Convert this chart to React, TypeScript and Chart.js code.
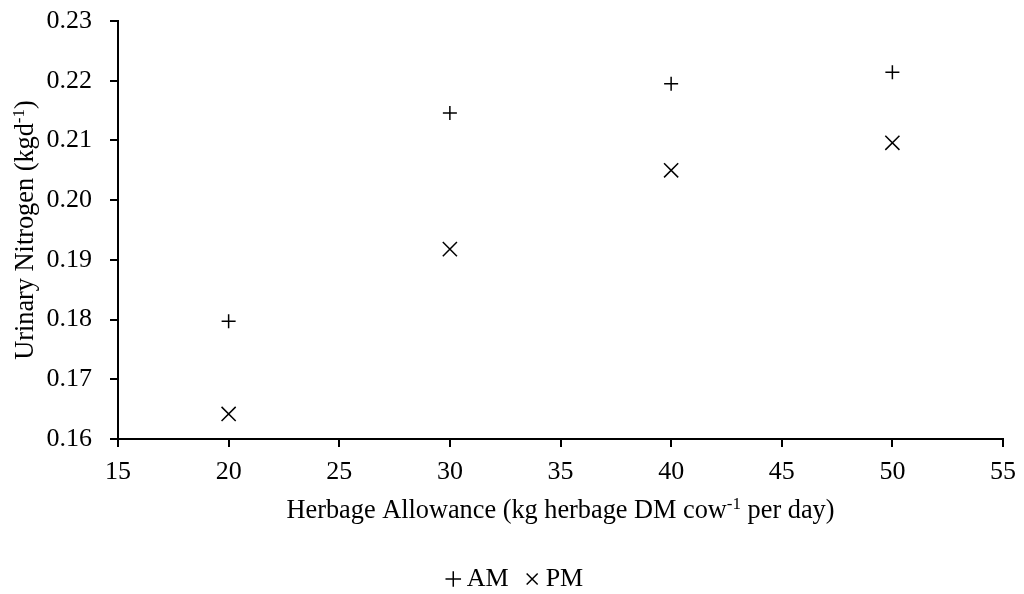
import React, { useEffect, useRef } from "react";
import { Chart, registerables } from "chart.js";

Chart.register(...registerables);

const herbageAllowance = [20, 30, 40, 50];
const amValues = [0.1797, 0.2146, 0.2195, 0.2214];
const pmValues = [0.1642, 0.1918, 0.205, 0.2096];
const seriesLabels = ["AM", "PM"];
const yTitleParts = [
  { text: "Urinary Nitrogen (kgd", sup: false },
  { text: "-1", sup: true },
  { text: ")", sup: false },
];
const xTitleParts = [
  { text: "Herbage Allowance (kg herbage DM cow", sup: false },
  { text: "-1", sup: true },
  { text: " per day)", sup: false },
];

const FONT = '"Liberation Serif", "Times New Roman", serif';
const FS = 26;
const TITLE_FS = 26.3;

type Part = { text: string; sup: boolean };

function drawRich(ctx: CanvasRenderingContext2D, parts: Part[], cx: number, baseline: number, size: number) {
  const main = `${size}px ${FONT}`;
  const sup = `${Math.round(size * 0.65)}px ${FONT}`;
  let total = 0;
  const widths: number[] = [];
  for (const p of parts) {
    ctx.font = p.sup ? sup : main;
    const w = ctx.measureText(p.text).width;
    widths.push(w);
    total += w;
  }
  let x = cx - total / 2;
  ctx.textAlign = "left";
  ctx.textBaseline = "alphabetic";
  ctx.fillStyle = "#000";
  parts.forEach((p, i) => {
    ctx.font = p.sup ? sup : main;
    ctx.fillText(p.text, x, p.sup ? baseline - size * 0.34 : baseline);
    x += widths[i];
  });
}

const titlePlugin = {
  id: "richTitles",
  afterDraw(chart: any) {
    const ctx = chart.ctx as CanvasRenderingContext2D;
    const area = chart.chartArea;
    ctx.save();
    drawRich(ctx, xTitleParts, (area.left + area.right) / 2, 518, TITLE_FS);
    ctx.translate(27, (area.top + area.bottom) / 2);
    ctx.rotate(-Math.PI / 2);
    drawRich(ctx, yTitleParts, 0, 6, TITLE_FS);
    ctx.restore();
  },
};

export default function App() {
  const ref = useRef<HTMLCanvasElement | null>(null);
  useEffect(() => {
    document.body.style.margin = "0";
    const canvas = ref.current!;
    const chart = new Chart(canvas, {
      type: "scatter",
      data: {
        datasets: [
          {
            label: seriesLabels[0],
            data: herbageAllowance.map((x, i) => ({ x, y: amValues[i] })),
            pointStyle: "cross",
            pointRadius: 7,
            pointBorderWidth: 1.5,
            borderColor: "#000",
            backgroundColor: "#000",
          },
          {
            label: seriesLabels[1],
            data: herbageAllowance.map((x, i) => ({ x, y: pmValues[i] })),
            pointStyle: "crossRot",
            pointRadius: 10,
            pointBorderWidth: 1.5,
            borderColor: "#000",
            backgroundColor: "#000",
          },
        ],
      },
      options: {
        animation: false,
        responsive: false,
        devicePixelRatio: 1,
        layout: { padding: { left: 33, right: 21, top: 21, bottom: -8 } },
        plugins: {
          legend: {
            display: true,
            position: "bottom",
            labels: {
              usePointStyle: true,
              boxWidth: 1,
              boxHeight: 11,
              padding: 23,
              color: "#000",
              font: { family: FONT, size: FS },
            },
          },
          tooltip: { enabled: false },
        },
        scales: {
          x: {
            type: "linear",
            min: 15,
            max: 55,
            ticks: {
              stepSize: 5,
              color: "#000",
              font: { family: FONT, size: FS },
              padding: 10,
            },
            grid: { drawOnChartArea: false, drawTicks: true, tickLength: 8, color: "#000", lineWidth: 2 },
            border: { display: true, color: "#000", width: 2 },
            afterFit: (scale: any) => {
              scale.height = 104;
              scale.paddingLeft = 0;
              scale.paddingRight = 0;
            },
          },
          y: {
            type: "linear",
            min: 0.16,
            max: 0.23,
            ticks: {
              stepSize: 0.01,
              color: "#000",
              font: { family: FONT, size: FS },
              padding: 18,
              callback: (v: any) => Number(v).toFixed(2),
            },
            grid: { drawOnChartArea: false, drawTicks: true, tickLength: 8, color: "#000", lineWidth: 2 },
            border: { display: true, color: "#000", width: 2 },
            afterFit: (scale: any) => {
              scale.width = 85;
              scale.paddingTop = 0;
              scale.paddingBottom = 0;
            },
          },
        },
      },
      plugins: [titlePlugin],
    });
    return () => chart.destroy();
  }, []);
  return (
    <div style={{ width: 1024, height: 594 }}>
      <canvas ref={ref} width={1024} height={594} style={{ display: "block" }} />
    </div>
  );
}
